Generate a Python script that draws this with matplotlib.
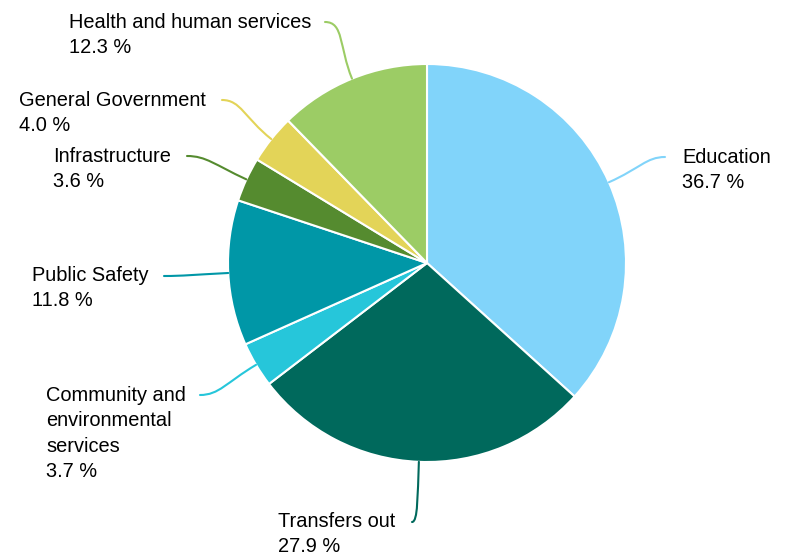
import numpy as np
import matplotlib.pyplot as plt
from matplotlib.path import Path
from matplotlib.patches import PathPatch

plt.rcParams['font.family'] = ['Liberation Sans', 'DejaVu Sans']

# dati
categories = ['Education', 'Transfers out', 'Community and\nenvironmental\nservices',
              'Public Safety', 'Infrastructure', 'General Government',
              'Health and human services']
shares = [36.7, 27.9, 3.7, 11.8, 3.6, 4.0, 12.3]
colors = ['#81D4FA', '#00695C', '#26C6DA', '#0097A7', '#558B2F', '#E3D458', '#9CCC65']

# layout in pixel (origine in alto a sinistra)
W, H = 787, 555
cx, cy, R = 427, 263, 199
# punto finale del connettore e posizione del testo (x sinistra, centro prima riga)
line_end = [(665, 157), (412, 522), (200, 395), (164, 276), (187, 156), (222, 100), (325, 22)]
text_pos = [(682, 155), (278, 519), (46, 393), (32, 273), (53, 154), (19, 98), (69, 20)]

fig = plt.figure(figsize=(W / 100, H / 100), dpi=100)
ax = fig.add_axes([0, 0, 1, 1])

ax.pie(shares, colors=colors, startangle=90, counterclock=False,
       radius=R, center=(cx, H - cy),
       wedgeprops=dict(edgecolor='white', linewidth=1.5))
ax.set_xlim(0, W)
ax.set_ylim(0, H)
ax.set_aspect('equal')
ax.axis('off')

total = sum(shares)
cum = np.cumsum([0] + shares[:-1])
for i, (name, v) in enumerate(zip(categories, shares)):
    mid = (cum[i] + v / 2) / total * 360
    ang = np.deg2rad(90 - mid)
    p0 = np.array([cx + R * np.cos(ang), H - (cy - R * np.sin(ang))])
    p3 = np.array([line_end[i][0], H - line_end[i][1]])
    dist = np.hypot(*(p3 - p0))
    radial = np.array([np.cos(ang), np.sin(ang)])
    side = 1 if p3[0] > cx + 20 else -1
    p1 = p0 + radial * dist * 0.55
    p2 = p3 - np.array([side, 0]) * dist * 0.3
    if i == 1:
        p2 = p3 + np.array([6, 0])
    path = Path([p0, p1, p2, p3], [Path.MOVETO, Path.CURVE4, Path.CURVE4, Path.CURVE4])
    ax.add_patch(PathPatch(path, fc='none', ec=colors[i], lw=1.5, capstyle='round'))

    tx, ty = text_pos[i]
    ax.text(tx, H - ty + 7, f'{name}\n{v:.1f} %', ha='left', va='top',
            fontsize=14.4, color='black', linespacing=1.43)

fig.savefig('out.png', dpi=100)
